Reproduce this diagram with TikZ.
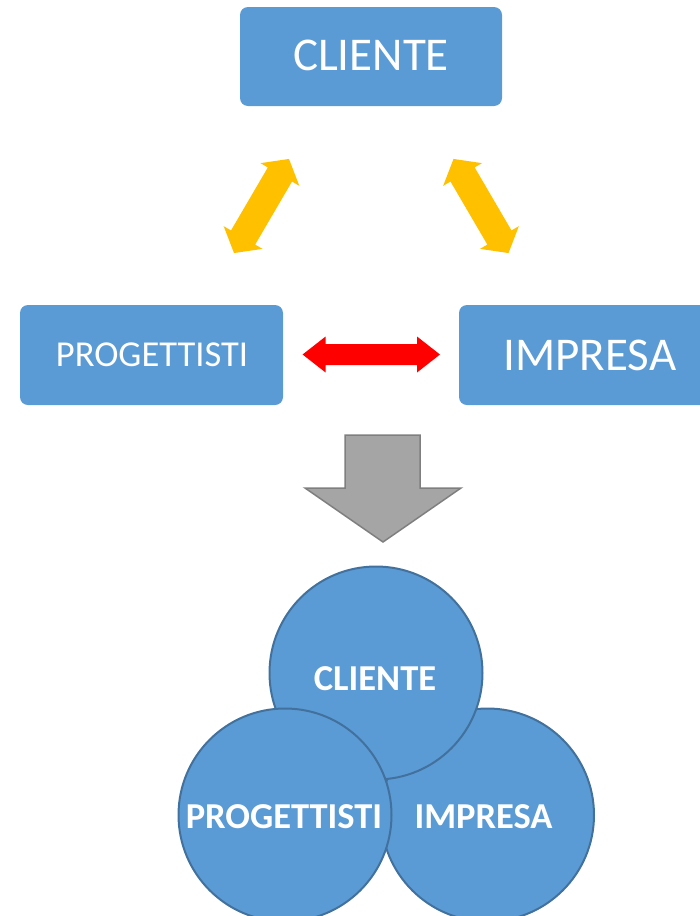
\documentclass[tikz,border=0pt]{standalone}
\usepackage{fontspec}
\setmainfont{Carlito}
\definecolor{boxblue}{HTML}{5B9BD5}
\definecolor{edgeblue}{HTML}{41719C}
\definecolor{amber}{HTML}{FFC000}
\definecolor{grayfill}{HTML}{A5A5A5}
\definecolor{grayedge}{HTML}{7F7F7F}
\newcommand\blockdouble[8]{%
  \begin{scope}[shift={(#1,#2)},rotate=#3]
    \fill[#8] (-#4,0) -- (-#4+#5,#6) -- (-#4+#5,#7) -- (#4-#5,#7) -- (#4-#5,#6) -- (#4,0)
      -- (#4-#5,-#6) -- (#4-#5,-#7) -- (-#4+#5,-#7) -- (-#4+#5,-#6) -- cycle;
  \end{scope}}
\begin{document}
\begin{tikzpicture}[x=1pt,y=-1pt,
  topbox/.style={fill=boxblue, rounded corners=8pt, inner sep=0pt},
  toplabel/.style={text=white, inner sep=0pt},
  ring/.style={circle, fill=boxblue, draw=edgeblue, line width=2pt, inner sep=0pt, minimum size=213pt},
  ringlabel/.style={text=white, inner sep=0pt, font=\bfseries\fontsize{36.5}{44}\selectfont}]
\useasboundingbox (0,0) rectangle (700,916);
\clip (0,0) rectangle (700,916);
% top boxes
\fill[topbox] (240,7) rectangle (502,106);
\fill[topbox] (20,305) rectangle (283,405);
\fill[topbox] (459,305) rectangle (722,405);
\node[toplabel, font=\fontsize{47}{56}\selectfont] (cliTop) at (371,55) {CLIENTE};
\node[toplabel, font=\fontsize{36.5}{44}\selectfont] (proTop) at (152,355) {PROGETTISTI};
\node[toplabel, font=\fontsize{47}{56}\selectfont] (impTop) at (590,355) {IMPRESA};
% yellow double arrows
\blockdouble{261.5}{206}{59.7}{54.5}{18}{22.5}{14}{amber}
\blockdouble{481}{206}{-59.7}{54.5}{18}{22.5}{14}{amber}
% red double arrow
\blockdouble{371.3}{354.5}{0}{68.7}{23}{18}{10.5}{red}
% gray down arrow
\filldraw[fill=grayfill, draw=grayedge, line width=1.5pt, line join=miter]
  (345,435) -- (420,435) -- (420,488) -- (461,488) -- (383,542) -- (305,488) -- (345,488) -- cycle;
% circles
\node[ring] (cI) at (487.5,815) {};
\node[ring] (cC) at (376,673) {};
\node[ring] (cP) at (285,815) {};
\node[ringlabel] (tC) at (375,678.5) {CLIENTE};
\node[ringlabel] (tP) at (284,817) {PROGETTISTI};
\node[ringlabel] (tI) at (483.5,817) {IMPRESA};
\end{tikzpicture}
\end{document}
